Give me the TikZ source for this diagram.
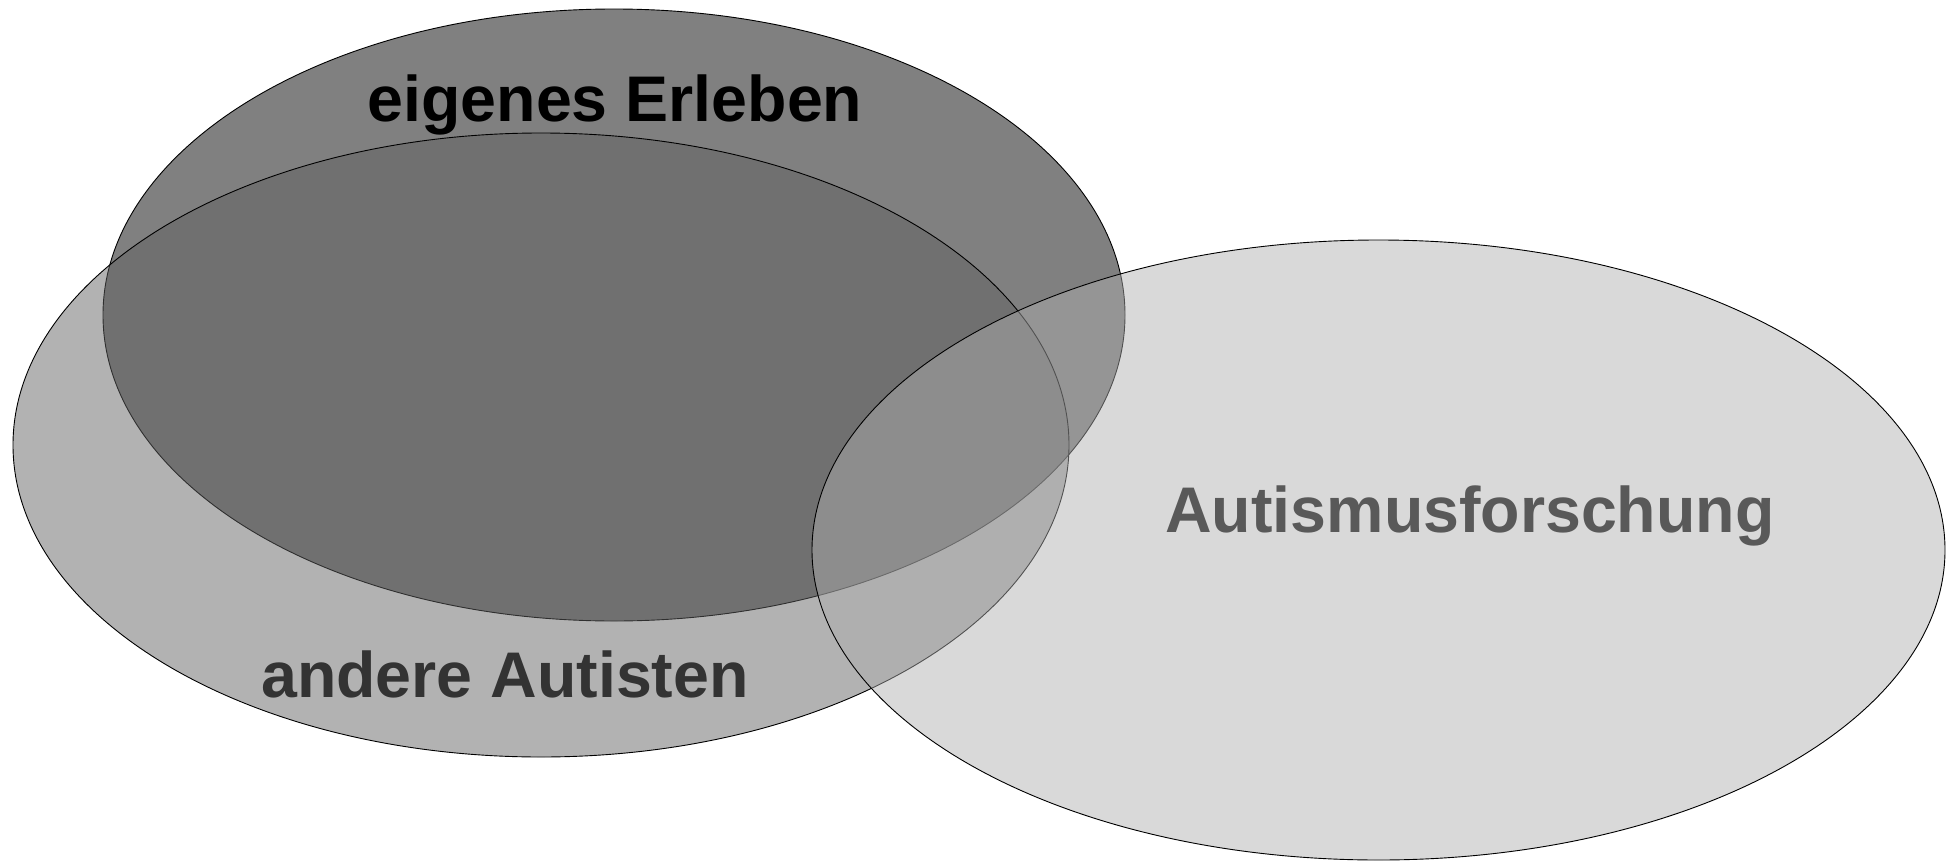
\documentclass[tikz,border=0pt]{standalone}
\usepackage{fontspec}
\setmainfont{Liberation Sans}
\definecolor{fillA}{RGB}{128,128,128}
\definecolor{fillB}{RGB}{97,97,97}
\definecolor{fillC}{RGB}{174,174,174}
\definecolor{txtB}{RGB}{51,51,51}
\definecolor{txtC}{RGB}{89,89,89}
\tikzset{
  venn/.style={draw=black, line width=0.9pt},
  lbl/.style={anchor=base, inner sep=0pt, font=\fontsize{64.5}{64.5}\selectfont\bfseries}
}
\begin{document}
\begin{tikzpicture}[x=1pt,y=-1pt]
\useasboundingbox (0,0) rectangle (1949,862);
\path[venn, fill=fillA] (614,315) ellipse [x radius=511, y radius=306];
\path[venn, fill=fillB, fill opacity=0.488] (541,445) ellipse [x radius=528, y radius=312];
\path[venn, fill=fillC, fill opacity=0.47] (1378.5,550) ellipse [x radius=566.5, y radius=310];
\node[lbl, text=black] (eigen) at (615,121) {eigenes Erleben};
\node[lbl, text=txtB] (andere) at (505,697) {andere Autisten};
\node[lbl, text=txtC] (forsch) at (1470,532) {Autismusforschung};
\end{tikzpicture}
\end{document}
